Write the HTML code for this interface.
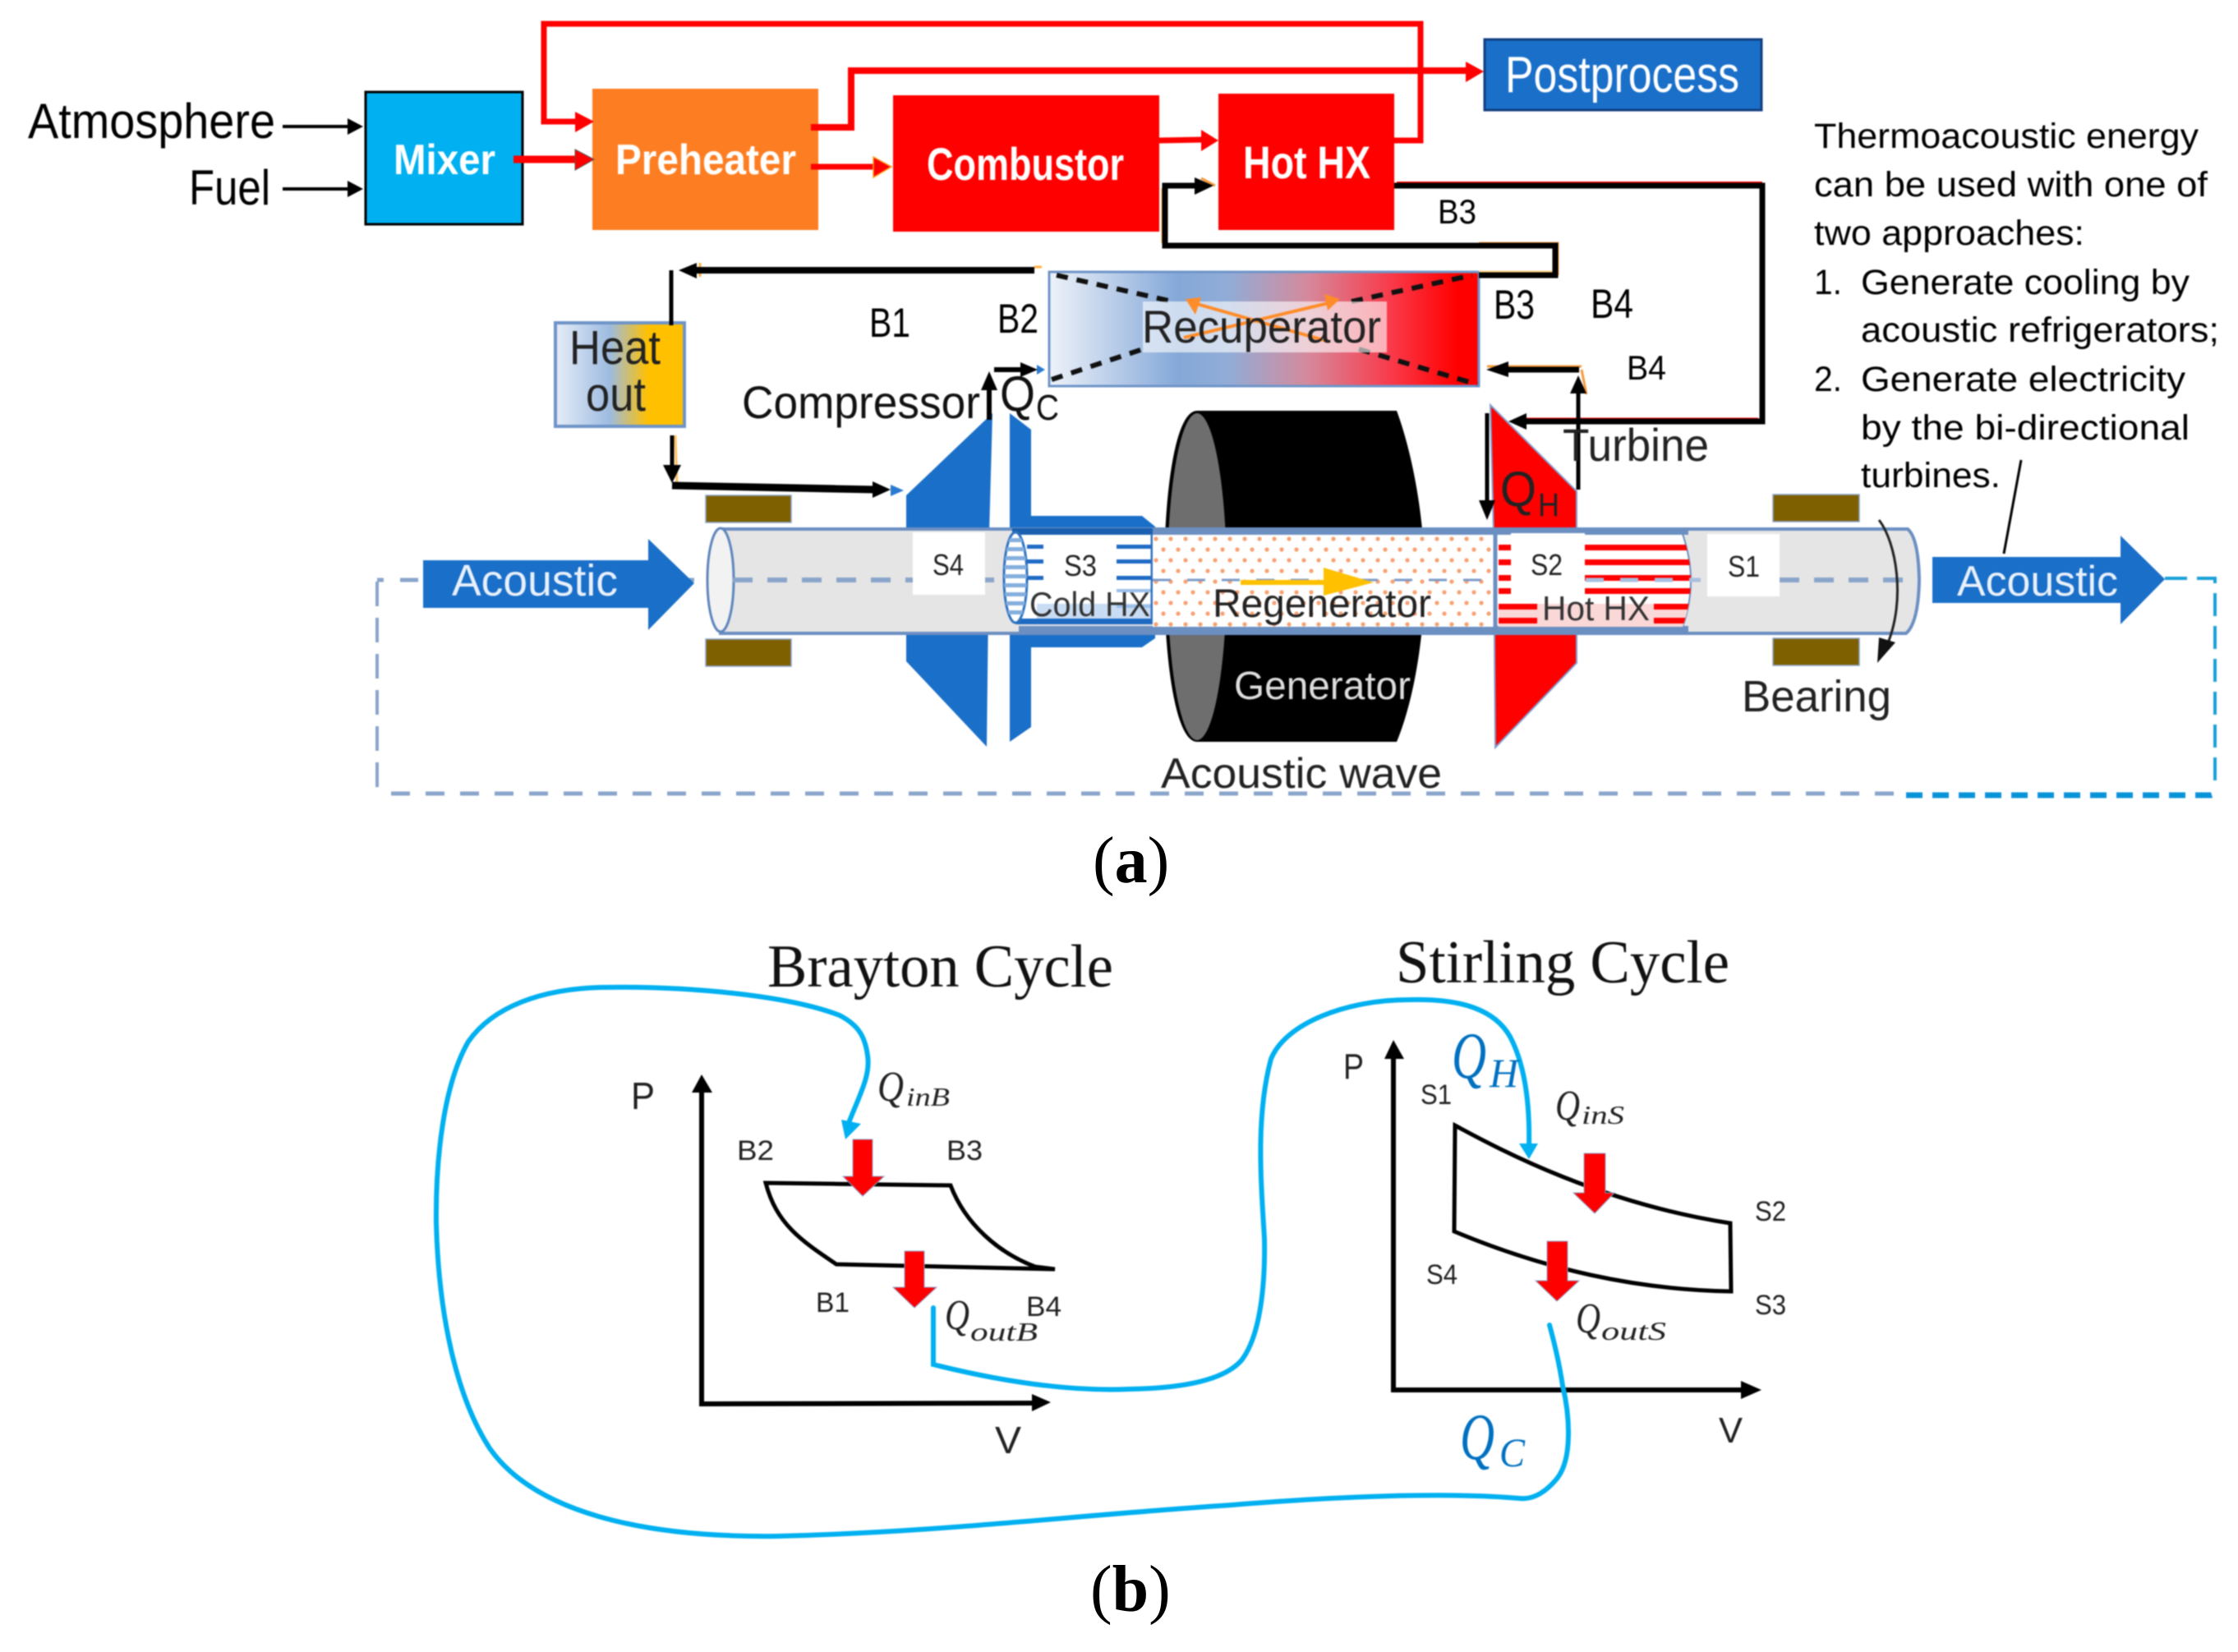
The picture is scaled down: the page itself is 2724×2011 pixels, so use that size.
<!DOCTYPE html>
<html><head><meta charset="utf-8"><title>Thermoacoustic diagram</title>
<style>
html,body{margin:0;padding:0;background:#fff}
svg{display:block}
text{font-family:"Liberation Sans",sans-serif}
.s{font-family:"Liberation Serif",serif}
.q{font-family:"Liberation Serif",serif;font-style:italic}
.soft{filter:blur(0.8px)}
</style></head>
<body>
<svg width="2724" height="2011" viewBox="0 0 2724 2011" xmlns="http://www.w3.org/2000/svg">
<defs>
<linearGradient id="gh" x1="0" x2="1" y1="0" y2="0"><stop offset="0" stop-color="#e6edf7"/><stop offset=".42" stop-color="#9dbbe0"/><stop offset=".72" stop-color="#ffc000"/><stop offset="1" stop-color="#ffc000"/></linearGradient>
<linearGradient id="gr" x1="0" x2="1" y1="0" y2="0"><stop offset="0" stop-color="#eef2f9"/><stop offset=".3" stop-color="#84a8d8"/><stop offset=".42" stop-color="#92acd6"/><stop offset=".6" stop-color="#d48a9c"/><stop offset=".8" stop-color="#f93848"/><stop offset=".95" stop-color="#ff0000"/><stop offset="1" stop-color="#ff0000"/></linearGradient>
<pattern id="dots" width="18" height="26" patternUnits="userSpaceOnUse" x="1403" y="650"><rect width="18" height="26" fill="#fff"/><circle cx="4" cy="6" r="2.6" fill="#f8a070"/><circle cx="13" cy="19" r="2.6" fill="#f8a070"/></pattern>
<clipPath id="hotclip"><path d="M1820,650 L2048,650 Q2058,680 2058,706 Q2058,735 2048,763 L1820,763 Z"/></clipPath>
<clipPath id="coldclip"><ellipse cx="1236" cy="703" rx="14" ry="55"/></clipPath>
</defs>

<g class="soft">
<!-- generator -->
<path d="M1457,500 L1700,500 C1722,560 1734,640 1734,702 C1734,770 1722,850 1700,903 L1457,903 C1430,903 1417,800 1417,702 C1417,600 1430,500 1457,500 Z" fill="#000"/>
<ellipse cx="1457" cy="702" rx="36" ry="199" fill="#6e6e6e"/>
<!-- compressor -->
<polygon points="1208,503 1103,603 1103,805 1201,909 1204,650" fill="#1a6fc8"/>
<polygon points="1229,503 1255,523 1255,628 1390,628 1406,641 1406,777 1390,788 1255,788 1255,885 1229,903" fill="#1a6fc8"/>
<!-- turbine -->
<polygon points="1814,493 1919,598 1919,807 1820,910 1818,650" fill="#f00" stroke="#7fa0d0" stroke-width="2"/>
<!-- tube -->
<path d="M877,644 L2322,644 Q2335,655 2336,706 Q2335,758 2320,771 L877,771 Z" fill="#e5e5e5" stroke="#6c8fc2" stroke-width="4"/>
<ellipse cx="877" cy="706" rx="16" ry="63" fill="#f2f2f2" stroke="#5f86bd" stroke-width="3"/>
<!-- tube walls across hx/regen -->
<rect x="1403" y="643" width="652" height="8" fill="#6c8fc2"/>
<rect x="1240" y="762" width="815" height="10" fill="#6c8fc2"/>
<!-- cold hx -->
<path d="M1236,648 L1402,648 L1402,759 L1236,759 Z" fill="#fff"/>
<rect x="1232" y="643" width="171" height="8" fill="#1a5fb0"/>
<rect x="1236" y="753" width="166" height="7" fill="#1e6ac2"/>
<rect x="1262" y="735" width="140" height="18" fill="#c8dcf4"/>
<ellipse cx="1236" cy="703" rx="14" ry="55" fill="#fff" stroke="#2f72c0" stroke-width="3"/>
<g clip-path="url(#coldclip)" fill="#84aede">
<rect x="1220" y="655" width="32" height="5"/><rect x="1220" y="666" width="32" height="5"/><rect x="1220" y="677" width="32" height="5"/><rect x="1220" y="688" width="32" height="5"/><rect x="1220" y="699" width="32" height="5"/><rect x="1220" y="710" width="32" height="5"/><rect x="1220" y="721" width="32" height="5"/><rect x="1220" y="732" width="32" height="5"/><rect x="1220" y="743" width="32" height="5"/>
</g>
<g fill="#1f6bc4">
<rect x="1250" y="663" width="20" height="5"/><rect x="1250" y="681" width="20" height="5"/><rect x="1250" y="701" width="20" height="5"/>
<rect x="1359" y="663" width="43" height="5"/><rect x="1359" y="681" width="43" height="5"/><rect x="1359" y="701" width="43" height="5"/>
</g>
<g fill="#9cc0ea"><rect x="1359" y="717" width="43" height="4"/><rect x="1359" y="736" width="43" height="4"/></g>
<line x1="1402" y1="650" x2="1402" y2="760" stroke="#2f72c0" stroke-width="3"/>
<!-- regenerator -->
<rect x="1403" y="651" width="417" height="112" fill="url(#dots)"/>
<!-- hot hx -->
<path d="M1820,650 L2048,650 Q2058,680 2058,706 Q2058,735 2048,763 L1820,763 Z" fill="#fff" stroke="#6c8fc2" stroke-width="2"/>
<g clip-path="url(#hotclip)">
<rect x="1824" y="735" width="240" height="28" fill="#fbd8d8"/>
<g fill="#f00">
<rect x="1824" y="663" width="240" height="7"/><rect x="1824" y="681" width="240" height="7"/><rect x="1824" y="700" width="240" height="7"/><rect x="1824" y="716" width="240" height="7"/>
<rect x="1824" y="735" width="47" height="7"/><rect x="2013" y="735" width="50" height="7"/>
<rect x="1824" y="752" width="47" height="7"/><rect x="2013" y="752" width="50" height="7"/>
</g>
</g>
<line x1="1820" y1="650" x2="1820" y2="764" stroke="#6c8fc2" stroke-width="5"/>
<!-- bearings -->
<g fill="#7f6000" stroke="#8aa4cc" stroke-width="1.5">
<rect x="859" y="603" width="104" height="33"/><rect x="859" y="778" width="104" height="33"/>
<rect x="2158" y="602" width="105" height="33"/><rect x="2158" y="777" width="105" height="33"/>
</g>
<!-- dashed loop -->
<path d="M845,706 L459,706" fill="none" stroke="#8aa5cc" stroke-width="5" stroke-dasharray="22 20"/>
<path d="M459,708 L459,955 Q459,966 466,966" fill="none" stroke="#8aa5cc" stroke-width="4" stroke-dasharray="30 14"/>
<path d="M476,966 L2310,966" fill="none" stroke="#8aa5cc" stroke-width="5" stroke-dasharray="23 19"/>
<line x1="892" y1="706" x2="1226" y2="706" stroke="#8aa5cc" stroke-width="6" stroke-dasharray="24 18"/>
<line x1="2166" y1="706" x2="2326" y2="706" stroke="#8aa5cc" stroke-width="6" stroke-dasharray="24 18"/>
<line x1="1403" y1="706" x2="1820" y2="706" stroke="#7f9cc8" stroke-width="3" stroke-dasharray="22 20"/>
<line x1="1930" y1="706" x2="2070" y2="706" stroke="#a8c0e0" stroke-width="5" stroke-dasharray="22 20"/>
<path d="M2320,968 L2690,968 Q2696,968 2696,960" fill="none" stroke="#0a94d8" stroke-width="7" stroke-dasharray="20 12"/>
<path d="M2696,950 L2696,704 L2635,704" fill="none" stroke="#1aa0d8" stroke-width="4" stroke-dasharray="28 12"/>
<!-- white boxes -->
<rect x="1111" y="648" width="88" height="76" fill="#fff"/>
<rect x="1270" y="651" width="89" height="69" fill="#fff"/>
<rect x="1839" y="649" width="90" height="74" fill="#fff"/>
<rect x="2078" y="650" width="88" height="76" fill="#fff"/>
<!-- acoustic arrows -->
<polygon points="515,682 789,682 789,656 845,710 789,767 789,740 515,740" fill="#1a6fc8"/>
<polygon points="2352,678 2581,678 2581,652 2635,705 2581,760 2581,734 2352,734" fill="#1a6fc8"/>
<!-- yellow arrow -->
<polygon points="1510,706 1611,706 1611,691 1672,709 1611,725 1611,712 1510,712" fill="#ffc000"/>
<!-- right curved arrow -->
<path d="M2287,633 C2308,660 2320,730 2297,785" fill="none" stroke="#222" stroke-width="3"/>
<polygon points="2285,807 2287,776 2307,782" fill="#111"/>
<!-- leader line -->
<line x1="2460" y1="560" x2="2439" y2="674" stroke="#000" stroke-width="3"/>

<!-- top boxes -->
<rect x="445" y="112" width="191" height="161" fill="#00b0f0" stroke="#000" stroke-width="3"/>
<rect x="721" y="108" width="275" height="172" fill="#fd7e22"/>
<rect x="1087" y="116" width="324" height="166" fill="#f00"/>
<rect x="1483" y="114" width="214" height="166" fill="#f00"/>
<rect x="1807" y="48" width="337" height="86" fill="#1a6fc8" stroke="#123f80" stroke-width="3"/>
<rect x="676" y="393" width="157" height="126" fill="url(#gh)" stroke="#6f94c8" stroke-width="4"/>
<rect x="1277" y="331" width="523" height="139" fill="url(#gr)" stroke="#6f94c8" stroke-width="3"/>
<!-- recuperator dashes -->
<g stroke="#111" stroke-width="6" stroke-dasharray="14 11" fill="none">
<line x1="1286" y1="335" x2="1427" y2="367"/><line x1="1645" y1="367" x2="1792" y2="335"/>
<line x1="1280" y1="462" x2="1391" y2="425"/><line x1="1654" y1="425" x2="1798" y2="468"/>
</g>
<rect x="1391" y="367" width="297" height="62" fill="#fff" fill-opacity=".6"/>

<!-- red connectors -->
<g fill="none" stroke="#f00" stroke-linejoin="miter">
<path d="M1697,171 L1729,171 L1729,29 L662,29 L662,148 L705,148" stroke-width="7"/>
<path d="M987,155 L1036,155 L1036,86 L1790,86" stroke-width="8"/>
<path d="M625,194 L705,194" stroke-width="9"/>
<path d="M987,203 L1068,203" stroke-width="7"/>
<path d="M1411,171 L1465,170" stroke-width="7"/>
<path d="M1850,510 L2140,510" stroke-width="3"/>
<path d="M1700,222 L2145,222" stroke-width="2"/>
</g>
<g fill="#f00">
<polygon points="700,136 723,148 700,161"/>
<polygon points="1784,75 1806,87 1784,100"/>
<polygon points="700,182 723,194 700,207" stroke="#555" stroke-width="1"/>
<polygon points="1063,191 1085,203 1063,216" stroke="#ffa020" stroke-width="1.5"/>
<polygon points="1462,158 1483,171 1462,184"/>
</g>
<!-- orange halos -->
<g fill="none" stroke="#f59a3c" stroke-width="3">
<path d="M1800,296 L1896,296 L1896,335"/>
<path d="M1800,331 L1893,331" stroke="#f9cf80"/>
<path d="M1415,229 L1415,296"/>
<path d="M1462,217 L1479,226"/>
<path d="M1925,446 L1810,446"/>
<path d="M1925,450 L1931,480"/>
<path d="M852,320 L852,337" stroke="#ffb040"/>
<path d="M1259,325 L1268,325" stroke="#ffb040"/>
<path d="M822,530 L824,590" stroke="#ffc060"/>
</g>
<polygon points="1084,590 1100,597 1084,604" fill="#2a7ad0"/>
<polygon points="1262,444 1272,450 1262,456" fill="#2a7ad0"/>
<!-- black connectors -->
<g fill="none" stroke="#000">
<path d="M1697,226 L2145,226 L2145,513 L1850,513" stroke-width="7"/>
<path d="M1800,335 L1893,335 L1893,299 L1418,299 L1418,226 L1460,226" stroke-width="7"/>
<path d="M1259,329 L840,329" stroke-width="8"/>
<path d="M817,329 L817,396" stroke-width="5"/>
<path d="M818,530 L818,572" stroke-width="5"/>
<path d="M818,591 L1066,596" stroke-width="9"/>
<path d="M1922,450 L1825,450" stroke-width="7"/>
<path d="M1921,596 L1921,470" stroke-width="5"/>
<path d="M1810,503 L1810,612" stroke-width="5"/>
<path d="M1204,511 L1204,470" stroke-width="6"/>
<path d="M1210,450 L1248,450" stroke-width="6"/>
<path d="M344,154 L425,154 M344,230 L425,230" stroke-width="4"/>
</g>
<g fill="#000">
<polygon points="1477,226 1454,216 1454,237"/>
<polygon points="826,329 848,320 848,339"/>
<polygon points="818,588 807,566 829,566"/>
<polygon points="1084,596 1062,586 1062,606"/>
<polygon points="1836,513 1858,503 1858,523"/>
<polygon points="1809,450 1836,440 1836,459"/>
<polygon points="1921,457 1911,479 1931,479"/>
<polygon points="1810,633 1800,609 1820,609"/>
<polygon points="1204,452 1194,475 1214,475"/>
<polygon points="1263,450 1242,441 1242,459"/>
<polygon points="442,154 423,144 423,164"/>
<polygon points="442,230 423,220 423,240"/>
</g>
<!-- orange X -->
<g stroke="#ff8c2a" stroke-width="4" fill="none">
<line x1="1441" y1="411" x2="1625" y2="367"/><line x1="1618" y1="416" x2="1450" y2="368"/>
</g>
<polygon points="1631,364 1612,358 1616,378" fill="#ff8c2a"/>
<polygon points="1443,364 1462,362 1455,383" fill="#ff8c2a"/>

<!-- labels -->
<g fill="#000">
<text x="34" y="168" font-size="60" textLength="301" lengthAdjust="spacingAndGlyphs">Atmosphere</text>
<text x="230" y="249" font-size="60" textLength="99" lengthAdjust="spacingAndGlyphs">Fuel</text>
<text x="693" y="443" font-size="58" textLength="111" lengthAdjust="spacingAndGlyphs" fill="#222">Heat</text>
<text x="713" y="500" font-size="58" textLength="73" lengthAdjust="spacingAndGlyphs" fill="#222">out</text>
<text x="1058" y="410" font-size="50" textLength="50" lengthAdjust="spacingAndGlyphs">B1</text>
<text x="1214" y="405" font-size="50" textLength="50" lengthAdjust="spacingAndGlyphs">B2</text>
<text x="903" y="509" font-size="56" textLength="290" lengthAdjust="spacingAndGlyphs" fill="#111">Compressor</text>
<text x="1217" y="500" font-size="60" textLength="43" lengthAdjust="spacingAndGlyphs" fill="#111">Q</text>
<text x="1261" y="511" font-size="44" textLength="28" lengthAdjust="spacingAndGlyphs" fill="#111">C</text>
<text x="1390" y="417" font-size="56" textLength="291" lengthAdjust="spacingAndGlyphs" fill="#222">Recuperator</text>
<text x="1750" y="272" font-size="42" textLength="47" lengthAdjust="spacingAndGlyphs">B3</text>
<text x="1818" y="388" font-size="50" textLength="50" lengthAdjust="spacingAndGlyphs">B3</text>
<text x="1936" y="387" font-size="50" textLength="52" lengthAdjust="spacingAndGlyphs">B4</text>
<text x="1980" y="462" font-size="42" textLength="48" lengthAdjust="spacingAndGlyphs">B4</text>
<text x="1902" y="561" font-size="56" textLength="178" lengthAdjust="spacingAndGlyphs" fill="#222">Turbine</text>
<text x="1826" y="616" font-size="60" textLength="44" lengthAdjust="spacingAndGlyphs" fill="#222">Q</text>
<text x="1872" y="628" font-size="40" textLength="26" lengthAdjust="spacingAndGlyphs" fill="#222">H</text>
<text x="1135" y="700" font-size="36" textLength="38" lengthAdjust="spacingAndGlyphs" fill="#222">S4</text>
<text x="1295" y="701" font-size="36" textLength="40" lengthAdjust="spacingAndGlyphs" fill="#222">S3</text>
<text x="1863" y="700" font-size="36" textLength="39" lengthAdjust="spacingAndGlyphs" fill="#222">S2</text>
<text x="2103" y="702" font-size="36" textLength="39" lengthAdjust="spacingAndGlyphs" fill="#222">S1</text>
<text x="1253" y="750" font-size="42" textLength="147" lengthAdjust="spacingAndGlyphs" fill="#333">Cold HX</text>
<text x="1476" y="751" font-size="48" textLength="266" lengthAdjust="spacingAndGlyphs" fill="#222">Regenerator</text>
<text x="1877" y="755" font-size="42" textLength="131" lengthAdjust="spacingAndGlyphs" fill="#333">Hot HX</text>
<text x="2120" y="866" font-size="54" textLength="182" lengthAdjust="spacingAndGlyphs" fill="#222">Bearing</text>
<text x="1413" y="959" font-size="52" textLength="342" lengthAdjust="spacingAndGlyphs" fill="#222">Acoustic wave</text>
</g>
<g fill="#fff">
<text x="479" y="212" font-size="52" font-weight="bold" textLength="124" lengthAdjust="spacingAndGlyphs">Mixer</text>
<text x="749" y="212" font-size="52" font-weight="bold" textLength="220" lengthAdjust="spacingAndGlyphs">Preheater</text>
<text x="1128" y="219" font-size="56" font-weight="bold" textLength="240" lengthAdjust="spacingAndGlyphs">Combustor</text>
<text x="1513" y="217" font-size="56" font-weight="bold" textLength="155" lengthAdjust="spacingAndGlyphs">Hot HX</text>
<text x="1832" y="112" font-size="62" textLength="285" lengthAdjust="spacingAndGlyphs">Postprocess</text>
<text x="550" y="725" font-size="54" textLength="202" lengthAdjust="spacingAndGlyphs" fill="#e8f0fb">Acoustic</text>
<text x="2382" y="725" font-size="52" textLength="196" lengthAdjust="spacingAndGlyphs" fill="#e8f0fb">Acoustic</text>
<text x="1502" y="851" font-size="48" textLength="215" lengthAdjust="spacingAndGlyphs" fill="#ddd">Generator</text>
</g>
<!-- note -->
<g fill="#000" font-size="43">
<text x="2208" y="180" textLength="468" lengthAdjust="spacingAndGlyphs">Thermoacoustic energy</text>
<text x="2208" y="239" textLength="479" lengthAdjust="spacingAndGlyphs">can be used with one of</text>
<text x="2208" y="298" textLength="329" lengthAdjust="spacingAndGlyphs">two approaches:</text>
<text x="2208" y="358" textLength="34" lengthAdjust="spacingAndGlyphs">1.</text>
<text x="2265" y="358" textLength="400" lengthAdjust="spacingAndGlyphs">Generate cooling by</text>
<text x="2265" y="416" textLength="436" lengthAdjust="spacingAndGlyphs">acoustic refrigerators;</text>
<text x="2208" y="476" textLength="34" lengthAdjust="spacingAndGlyphs">2.</text>
<text x="2265" y="476" textLength="395" lengthAdjust="spacingAndGlyphs">Generate electricity</text>
<text x="2265" y="535" textLength="400" lengthAdjust="spacingAndGlyphs">by the bi-directional</text>
<text x="2265" y="593" textLength="170" lengthAdjust="spacingAndGlyphs">turbines.</text>
</g>
</g>

<text class="s" x="1330" y="1074" font-size="80" fill="#000">(<tspan font-weight="bold">a</tspan>)</text>
<text class="s" x="1327" y="1961" font-size="80" fill="#000">(<tspan font-weight="bold">b</tspan>)</text>

<g class="soft">
<text class="s" x="934" y="1201" font-size="74" textLength="421" lengthAdjust="spacingAndGlyphs" fill="#111">Brayton Cycle</text>
<text class="s" x="1699" y="1196" font-size="74" textLength="406" lengthAdjust="spacingAndGlyphs" fill="#111">Stirling Cycle</text>

<!-- Brayton chart -->
<g fill="none" stroke="#000">
<path d="M854,1325 L854,1709 L1262,1708" stroke-width="6"/>
<path d="M932,1440 L1157,1443 C1175,1490 1215,1525 1260,1542 L1284,1545 L1018,1539 C975,1510 945,1490 932,1440 Z" stroke-width="5"/>
</g>
<polygon points="854,1308 842,1330 867,1330" fill="#000"/>
<polygon points="1279,1707 1256,1697 1256,1718" fill="#000"/>
<!-- Stirling chart -->
<g fill="none" stroke="#000">
<path d="M1696,1285 L1696,1692 L2125,1692" stroke-width="6"/>
<path d="M1771,1370 C1830,1402 1950,1465 2106,1489 L2107,1572 C1990,1570 1880,1545 1770,1499 Z" stroke-width="5"/>
</g>
<polygon points="1696,1266 1685,1289 1709,1289" fill="#000"/>
<polygon points="2144,1692 2119,1681 2119,1703" fill="#000"/>
<!-- red arrows -->
<g fill="#f00" stroke="#8aa4cc" stroke-width="1">
<polygon points="1038,1387 1062,1387 1062,1432 1076,1432 1050,1456 1026,1432 1038,1432"/>
<polygon points="1101,1523 1125,1523 1125,1567 1140,1567 1113,1592 1087,1567 1101,1567"/>
<polygon points="1928,1404 1954,1404 1954,1452 1965,1452 1941,1477 1915,1452 1928,1452"/>
<polygon points="1883,1511 1908,1511 1908,1559 1922,1559 1895,1584 1869,1559 1883,1559"/>
</g>
<!-- cyan curves -->
<g fill="none" stroke="#00b0f0" stroke-width="6" stroke-linecap="round">
<path d="M1031,1372 C1045,1335 1060,1310 1056,1285 C1053,1262 1045,1248 1022,1236 C960,1212 840,1200 730,1202 C660,1204 600,1225 570,1268 C540,1320 530,1410 531,1490 C534,1600 555,1700 596,1763 C650,1840 780,1872 946,1870 C1150,1865 1300,1845 1500,1832 C1620,1822 1760,1816 1850,1824 C1870,1826 1885,1812 1895,1800 C1915,1775 1910,1720 1902,1687 C1898,1660 1892,1635 1886,1613"/>
<path d="M1136,1592 L1136,1661 C1220,1682 1300,1694 1374,1691 C1440,1690 1490,1680 1511,1656 C1535,1625 1540,1560 1539,1508 C1535,1440 1528,1360 1547,1289 C1565,1245 1640,1217 1715,1217 C1780,1215 1820,1230 1838,1262 C1858,1300 1862,1350 1861,1395"/>
</g>
<polygon points="1029,1387 1024,1363 1048,1368" fill="#00b0f0"/>
<polygon points="1861,1411 1849,1392 1872,1392" fill="#00b0f0"/>
<!-- chart labels -->
<g fill="#222">
<text x="768" y="1350" font-size="46" textLength="29" lengthAdjust="spacingAndGlyphs">P</text>
<text x="1211" y="1769" font-size="46" textLength="32" lengthAdjust="spacingAndGlyphs">V</text>
<text x="897" y="1412" font-size="34" textLength="45" lengthAdjust="spacingAndGlyphs">B2</text>
<text x="1152" y="1412" font-size="34" textLength="44" lengthAdjust="spacingAndGlyphs">B3</text>
<text x="993" y="1597" font-size="34" textLength="41" lengthAdjust="spacingAndGlyphs">B1</text>
<text x="1249" y="1602" font-size="34" textLength="43" lengthAdjust="spacingAndGlyphs">B4</text>
<text x="1635" y="1313" font-size="44" textLength="25" lengthAdjust="spacingAndGlyphs">P</text>
<text x="2092" y="1756" font-size="44" textLength="29" lengthAdjust="spacingAndGlyphs">V</text>
<text x="1729" y="1344" font-size="34" textLength="38" lengthAdjust="spacingAndGlyphs">S1</text>
<text x="2136" y="1486" font-size="34" textLength="38" lengthAdjust="spacingAndGlyphs">S2</text>
<text x="2136" y="1600" font-size="34" textLength="38" lengthAdjust="spacingAndGlyphs">S3</text>
<text x="1736" y="1563" font-size="34" textLength="38" lengthAdjust="spacingAndGlyphs">S4</text>
<text class="q" x="1068" y="1340" font-size="52" textLength="32" lengthAdjust="spacingAndGlyphs">Q</text>
<text class="q" x="1103" y="1346" font-size="32" textLength="53" lengthAdjust="spacingAndGlyphs">inB</text>
<text class="q" x="1150" y="1618" font-size="52" textLength="30" lengthAdjust="spacingAndGlyphs">Q</text>
<text class="q" x="1181" y="1632" font-size="32" textLength="82" lengthAdjust="spacingAndGlyphs">outB</text>
<text class="q" x="1893" y="1363" font-size="52" textLength="30" lengthAdjust="spacingAndGlyphs">Q</text>
<text class="q" x="1925" y="1368" font-size="32" textLength="52" lengthAdjust="spacingAndGlyphs">inS</text>
<text class="q" x="1918" y="1622" font-size="52" textLength="30" lengthAdjust="spacingAndGlyphs">Q</text>
<text class="q" x="1949" y="1631" font-size="32" textLength="79" lengthAdjust="spacingAndGlyphs">outS</text>
</g>
<g fill="#0070c0">
<text class="q" x="1767" y="1312" font-size="80" textLength="42" lengthAdjust="spacingAndGlyphs">Q</text>
<text class="q" x="1813" y="1323" font-size="50" textLength="35" lengthAdjust="spacingAndGlyphs">H</text>
<text class="q" x="1777" y="1776" font-size="80" textLength="42" lengthAdjust="spacingAndGlyphs">Q</text>
<text class="q" x="1825" y="1785" font-size="50" textLength="31" lengthAdjust="spacingAndGlyphs">C</text>
</g>
</g>
</svg>
</body></html>
